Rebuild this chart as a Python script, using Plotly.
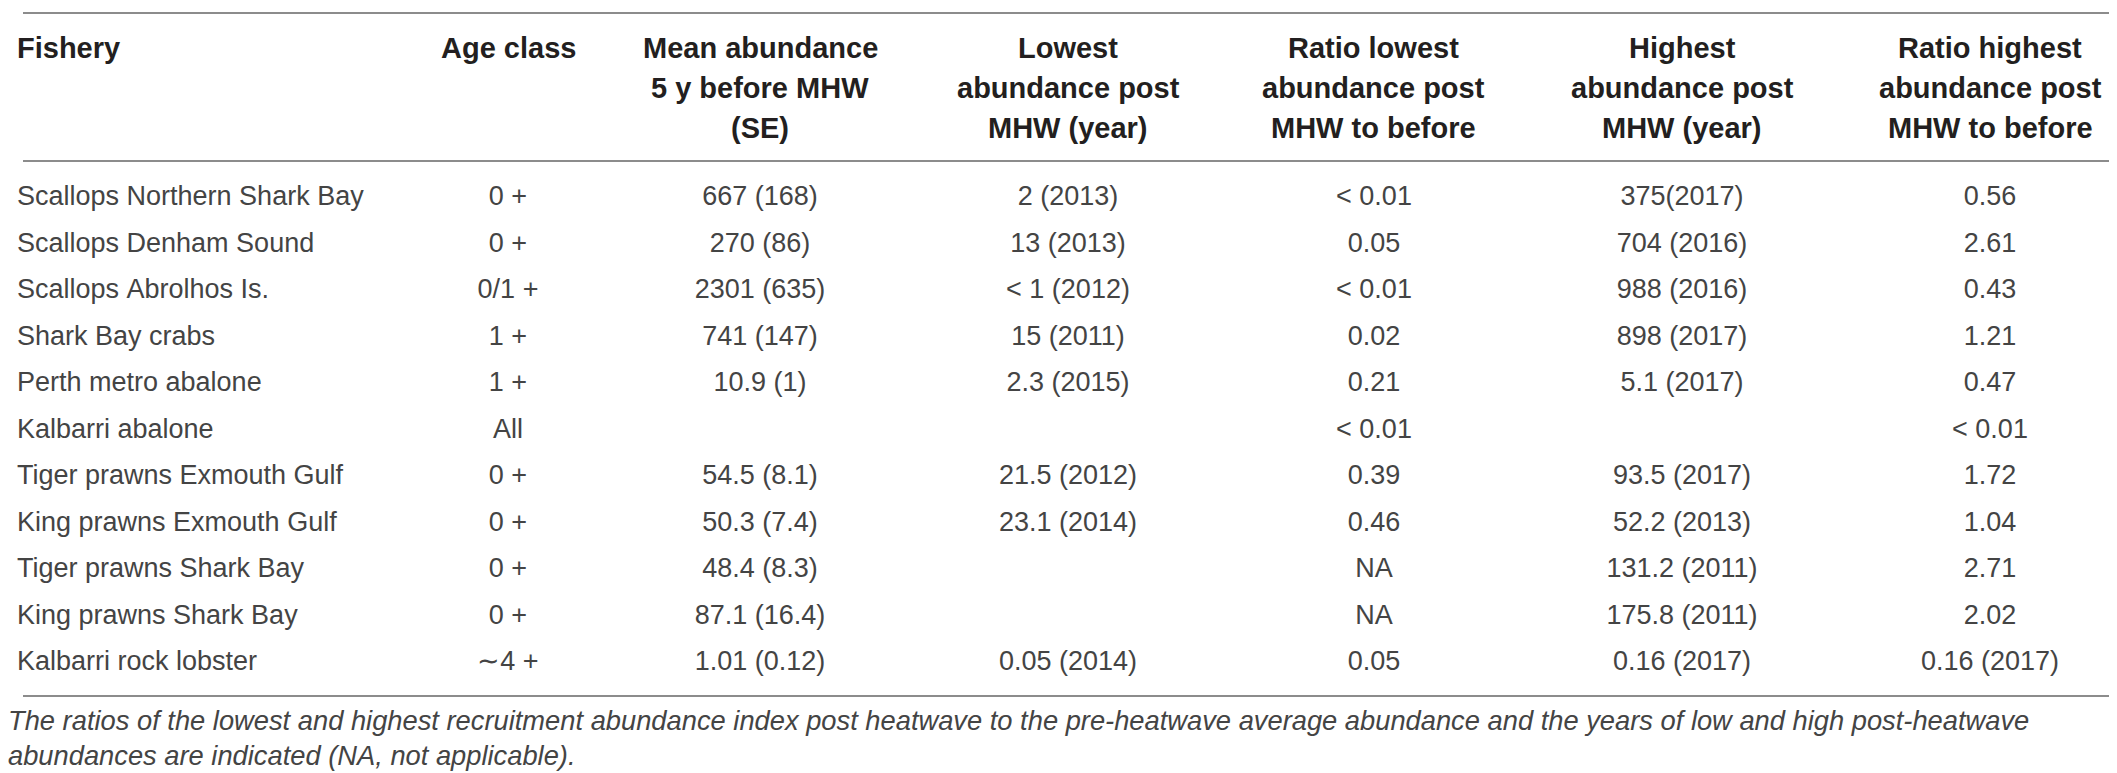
import plotly.graph_objects as go

W, H = 2117, 773

# Table content
headers = [
    ["Fishery"],
    ["Age class"],
    ["Mean abundance", "5 y before MHW", "(SE)"],
    ["Lowest", "abundance post", "MHW (year)"],
    ["Ratio lowest", "abundance post", "MHW to before"],
    ["Highest", "abundance post", "MHW (year)"],
    ["Ratio highest", "abundance post", "MHW to before"],
]

fishery = [
    "Scallops Northern Shark Bay",
    "Scallops Denham Sound",
    "Scallops Abrolhos Is.",
    "Shark Bay crabs",
    "Perth metro abalone",
    "Kalbarri abalone",
    "Tiger prawns Exmouth Gulf",
    "King prawns Exmouth Gulf",
    "Tiger prawns Shark Bay",
    "King prawns Shark Bay",
    "Kalbarri rock lobster",
]
age_class = ["0 +", "0 +", "0/1 +", "1 +", "1 +", "All", "0 +", "0 +", "0 +", "0 +", "∼4 +"]
mean_before = ["667 (168)", "270 (86)", "2301 (635)", "741 (147)", "10.9 (1)", "",
               "54.5 (8.1)", "50.3 (7.4)", "48.4 (8.3)", "87.1 (16.4)", "1.01 (0.12)"]
lowest_post = ["2 (2013)", "13 (2013)", "< 1 (2012)", "15 (2011)", "2.3 (2015)", "",
               "21.5 (2012)", "23.1 (2014)", "", "", "0.05 (2014)"]
ratio_lowest = ["< 0.01", "0.05", "< 0.01", "0.02", "0.21", "< 0.01",
                "0.39", "0.46", "NA", "NA", "0.05"]
highest_post = ["375(2017)", "704 (2016)", "988 (2016)", "898 (2017)", "5.1 (2017)", "",
                "93.5 (2017)", "52.2 (2013)", "131.2 (2011)", "175.8 (2011)", "0.16 (2017)"]
ratio_highest = ["0.56", "2.61", "0.43", "1.21", "0.47", "< 0.01",
                 "1.72", "1.04", "2.71", "2.02", "0.16 (2017)"]

caption = ("The ratios of the lowest and highest recruitment abundance index post heatwave to the "
           "pre-heatwave average abundance and the years of low and high post-heatwave<br>"
           "abundances are indicated (NA, not applicable).")

# layout in pixels
table_x0 = 1
col_widths = [375, 248, 256, 360, 252, 364, 252]
header_line_y = [40, 80, 120]
rules_y = [5, 153, 688]

NB = "\u00a0"  # stops plotly from re-wrapping cell text


def cell_text(s):
    # every cell goes through the same html path so baselines line up
    return "<span>" + s.replace("<", "&lt;").replace(" ", NB) + "</span>"


def py(px):
    return 1 - px / H


columns = [fishery, age_class, mean_before, lowest_post,
           ratio_lowest, highest_post, ratio_highest]
cell_vals = [[cell_text(v) for v in col] for col in columns]
table_x1 = table_x0 + sum(col_widths)

fig = go.Figure(
    go.Table(
        domain=dict(x=[table_x0 / W, table_x1 / W], y=[py(712), py(5)]),
        columnwidth=col_widths,
        header=dict(
            values=[""] * len(columns),
            fill_color="white",
            line=dict(color="white", width=0),
            height=160,
        ),
        cells=dict(
            values=cell_vals,
            align=["left"] + ["center"] * 6,
            font=dict(family="Liberation Sans", size=27, color="#444444"),
            fill_color="white",
            line=dict(color="white", width=0),
            height=46.5,
        ),
    )
)

# column header labels, centred over their columns (Fishery left-aligned)
left = table_x0
for i, (lines, w) in enumerate(zip(headers, col_widths)):
    for j, line in enumerate(lines):
        if i == 0:
            x, anchor = left + 8, "left"
        else:
            x, anchor = left + w / 2, "center"
        fig.add_annotation(
            text=f"<b>{line}</b>", xref="paper", yref="paper",
            x=x / W, y=py(header_line_y[j]), xanchor=anchor, yanchor="middle",
            showarrow=False, xshift=-2 if i == 0 else 0,
            font=dict(family="Liberation Sans", size=29, color="#231f20"),
        )
    left += w

# horizontal rules
for y in rules_y:
    fig.add_shape(type="line", xref="paper", yref="paper",
                  x0=15 / W, x1=2108 / W, y0=py(y), y1=py(y),
                  line=dict(color="#8c8c8c", width=2))

fig.add_annotation(
    text=f"<i>{caption}</i>",
    xref="paper", yref="paper", x=0, y=py(695), xshift=-2,
    xanchor="left", yanchor="top", align="left", showarrow=False,
    font=dict(family="Liberation Sans", size=27.3, color="#444444"),
)

fig.update_layout(
    width=W, height=H,
    margin=dict(l=0, r=0, t=0, b=0),
    paper_bgcolor="white",
    plot_bgcolor="white",
)

fig.write_html("out.html")
